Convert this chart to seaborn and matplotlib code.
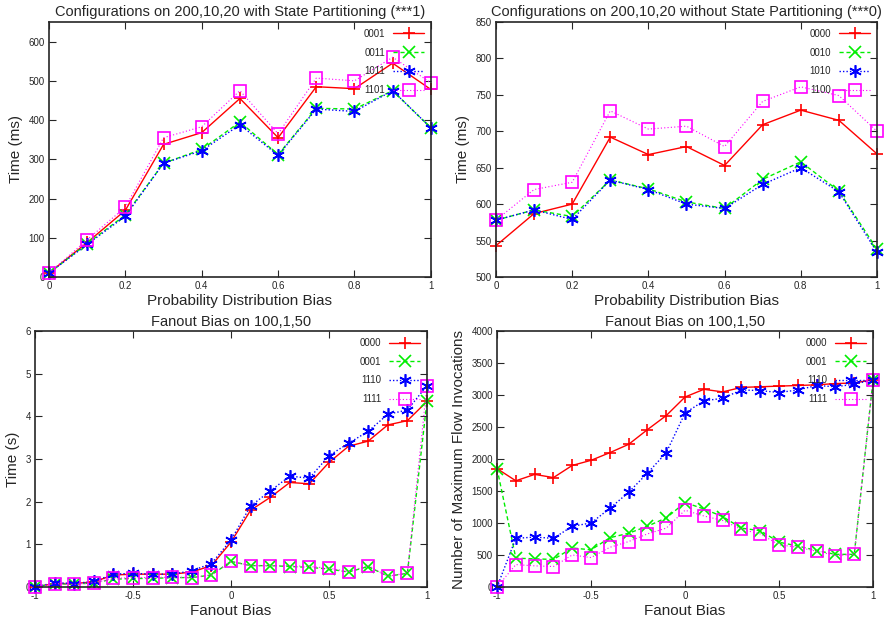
import numpy as np
import pandas as pd
import seaborn as sns
import matplotlib.pyplot as plt
from matplotlib.ticker import FuncFormatter, MultipleLocator

# top panels: probability distribution bias
bias = [0, 0.1, 0.2, 0.3, 0.4, 0.5, 0.6, 0.7, 0.8, 0.9, 1.0]
part_0001 = [10, 88, 170, 338, 368, 455, 355, 485, 480, 545, 478]
part_0011 = [10, 85, 158, 290, 325, 395, 312, 430, 428, 475, 380]
part_1011 = [10, 83, 155, 290, 322, 388, 310, 428, 422, 475, 380]
part_1101 = [10, 95, 178, 355, 383, 475, 365, 507, 500, 560, 495]

nopart_0000 = [543, 587, 600, 692, 668, 679, 653, 709, 729, 715, 669]
nopart_0010 = [578, 592, 583, 633, 621, 603, 594, 634, 658, 618, 538]
nopart_1010 = [578, 592, 579, 633, 620, 600, 594, 627, 650, 617, 534]
nopart_1100 = [578, 620, 630, 728, 703, 707, 679, 741, 761, 749, 700]

# bottom panels: fanout bias
fanout = [-1, -0.9, -0.8, -0.7, -0.6, -0.5, -0.4, -0.3, -0.2, -0.1, 0,
          0.1, 0.2, 0.3, 0.4, 0.5, 0.6, 0.7, 0.8, 0.9, 1]
time_0000 = [0, 0.08, 0.08, 0.12, 0.28, 0.3, 0.3, 0.3, 0.35, 0.5, 1.05,
             1.8, 2.1, 2.45, 2.42, 2.92, 3.3, 3.42, 3.8, 3.9, 4.35]
time_0001 = [0, 0.08, 0.06, 0.1, 0.18, 0.2, 0.2, 0.22, 0.22, 0.28, 0.6,
             0.5, 0.5, 0.48, 0.46, 0.42, 0.35, 0.48, 0.25, 0.32, 4.35]
time_1110 = [0, 0.1, 0.08, 0.13, 0.3, 0.32, 0.3, 0.3, 0.38, 0.55, 1.1,
             1.9, 2.25, 2.6, 2.55, 3.08, 3.37, 3.65, 4.05, 4.15, 4.72]
time_1111 = [0, 0.08, 0.06, 0.1, 0.2, 0.22, 0.22, 0.23, 0.22, 0.28, 0.6,
             0.5, 0.5, 0.5, 0.48, 0.44, 0.36, 0.5, 0.25, 0.33, 4.72]

flow_0000 = [1850, 1660, 1760, 1710, 1900, 1980, 2100, 2230, 2460, 2680, 2970,
             3090, 3050, 3120, 3130, 3140, 3150, 3160, 3180, 3190, 3240]
flow_0001 = [1850, 450, 440, 430, 610, 580, 770, 840, 950, 1080, 1320,
             1220, 1100, 920, 880, 700, 640, 570, 510, 510, 3240]
flow_1110 = [0, 760, 780, 760, 950, 1000, 1230, 1480, 1780, 2100, 2720,
             2910, 2950, 3080, 3070, 3040, 3080, 3150, 3130, 3170, 3240]
flow_1111 = [0, 350, 330, 320, 500, 460, 620, 710, 830, 920, 1200,
             1110, 1040, 900, 830, 660, 620, 560, 490, 510, 3240]

sns.set_style('ticks')
plt.rcParams['font.family'] = ['Liberation Sans', 'DejaVu Sans']
plt.rcParams['xtick.direction'] = 'in'
plt.rcParams['ytick.direction'] = 'in'
plt.rcParams['xtick.top'] = True
plt.rcParams['ytick.right'] = True
plt.rcParams['xtick.major.size'] = 5
plt.rcParams['ytick.major.size'] = 5

# gnuplot-like line types: colour, marker, linestyle, linewidth
styles = [
    ('#ff0000', '+', '-', 1.0),
    ('#00ee00', 'x', (0, (3, 2)), 1.0),
    ('#0000ff', (6, 2, 0), (0, (1, 1.5)), 1.0),
    ('#ff00ff', 's', (0, (1, 2)), 0.8),
]

fig = plt.figure(figsize=(8.86, 6.21), dpi=100)


def panel(rect, x, series, names, title, xlabel, ylabel, ylim, ystep, xstep):
    ax = fig.add_axes(rect)
    for (c, m, ls, lw), ys, name in zip(styles, series, names):
        df = pd.DataFrame({'x': x, 'y': ys})
        sns.lineplot(data=df, x='x', y='y', ax=ax, color=c, marker=m,
                     linestyle=ls, linewidth=lw, markersize=9,
                     markeredgecolor=c, markerfacecolor='none',
                     markeredgewidth=1.2, label=name, clip_on=False)
    ax.set_xlim(x[0], x[-1])
    ax.set_ylim(*ylim)
    ax.xaxis.set_major_locator(MultipleLocator(xstep))
    ax.yaxis.set_major_locator(MultipleLocator(ystep))
    fmt = FuncFormatter(lambda v, p: '{:g}'.format(round(v, 6)))
    ax.xaxis.set_major_formatter(fmt)
    ax.yaxis.set_major_formatter(fmt)
    ax.tick_params(labelsize=7, pad=3)
    for s in ax.spines.values():
        s.set_linewidth(1.2)
    ax.set_title(title, fontsize=10.5, pad=4)
    ax.set_xlabel(xlabel, fontsize=11, labelpad=2)
    ax.set_ylabel(ylabel, fontsize=11, labelpad=4)
    ax.legend(loc='upper right', frameon=False, markerfirst=False,
              fontsize=7, handlelength=3.2, labelspacing=0.9,
              borderaxespad=0.3)
    return ax


panel([0.0553, 0.554, 0.431, 0.4106], bias,
      [part_0001, part_0011, part_1011, part_1101],
      ['0001', '0011', '1011', '1101'],
      'Configurations on 200,10,20 with State Partitioning (***1)',
      'Probability Distribution Bias', 'Time (ms)', (0, 650), 100, 0.2)

panel([0.5598, 0.554, 0.430, 0.4106], bias,
      [nopart_0000, nopart_0010, nopart_1010, nopart_1100],
      ['0000', '0010', '1010', '1100'],
      'Configurations on 200,10,20 without State Partitioning (***0)',
      'Probability Distribution Bias', 'Time (ms)', (500, 850), 50, 0.2)

panel([0.0395, 0.0548, 0.4424, 0.412], fanout,
      [time_0000, time_0001, time_1110, time_1111],
      ['0000', '0001', '1110', '1111'],
      'Fanout Bias on 100,1,50', 'Fanout Bias', 'Time (s)', (0, 6), 1, 0.5)

panel([0.561, 0.0548, 0.4244, 0.412], fanout,
      [flow_0000, flow_0001, flow_1110, flow_1111],
      ['0000', '0001', '1110', '1111'],
      'Fanout Bias on 100,1,50', 'Fanout Bias',
      'Number of Maximum Flow Invocations', (0, 4000), 500, 0.5)

fig.savefig('out.png', dpi=100)
